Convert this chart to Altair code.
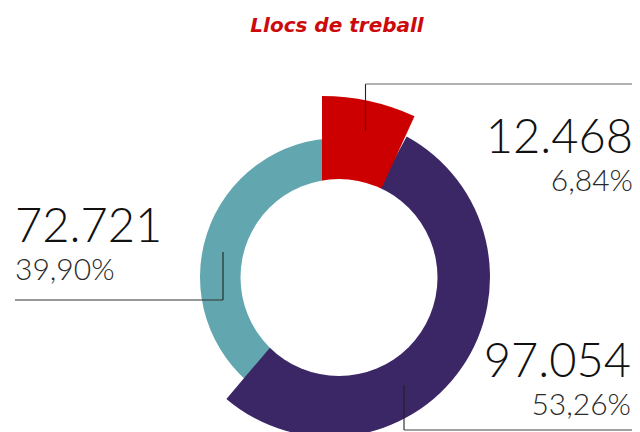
import altair as alt
import pandas as pd

# ---- data ----
categories = ["A", "B", "C"]
values = [12468, 97054, 72721]
value_labels = ["12.468", "97.054", "72.721"]
pct_labels = ["6,84%", "53,26%", "39,90%"]
colors = ["#CC0000", "#3C2766", "#62A6B0"]
title_text = "Llocs de treball"

total = sum(values)
ends = []
acc = 0
for v in values:
    acc += v
    ends.append(acc)
starts = [e - v for e, v in zip(ends, values)]

df = pd.DataFrame({
    "cat": categories,
    "value": values,
    "start": starts,
    "end": ends,
    "vlabel": value_labels,
    "plabel": pct_labels,
})

# ---- layout (page pixels; chart origin is at the 8px page margin) ----
M = 8
TAU = 6.283185307

theta_scale = alt.Scale(domain=[0, total], range=[0, TAU])
color_scale = alt.Scale(domain=categories, range=colors)

# slice geometry: category -> (centre x, centre y, outer radius, angular offset)
geom = {
    "C": (339, 277, 139, 0.0),
    "B": (330, 277, 160, 0.07),
    "A": (322, 318, 222, 0.0),
}


def arc_layer(cat):
    cx, cy, r, off = geom[cat]
    return (
        alt.Chart(df)
        .transform_filter(alt.datum.cat == cat)
        .mark_arc(radius=r, thetaOffset=off, theta2Offset=off, stroke=None)
        .encode(
            theta=alt.Theta("start:Q", scale=theta_scale),
            theta2="end:Q",
            color=alt.Color("cat:N", scale=color_scale, legend=None),
            x=alt.value(cx - M),
            y=alt.value(cy - M),
        )
    )


arcs = [arc_layer("C"), arc_layer("B"), arc_layer("A")]

hole_r = 98.5
hole = (
    alt.Chart(pd.DataFrame({"k": [0]}))
    .mark_circle(size=(2 * hole_r) ** 2, color="white", opacity=1)
    .encode(x=alt.value(339 - M), y=alt.value(277.5 - M))
)

# leader lines: (x, y, x2, y2, colour)
leaders = [
    (365.5, 131, 365.5, 84, "#222222"),
    (365.5, 84, 636, 84, "#666666"),
    (223, 252, 223, 300, "#222222"),
    (15, 300, 223, 300, "#333333"),
    (404, 385, 404, 430, "#222222"),
    (404, 430, 640, 430, "#444444"),
]
rules = []
for (x1, y1, x2, y2, c) in leaders:
    rules.append(
        alt.Chart(pd.DataFrame({"k": [0]}))
        .mark_rule(color=c, strokeWidth=1.1)
        .encode(
            x=alt.value(x1 - M), y=alt.value(y1 - M),
            x2=alt.value(x2 - M), y2=alt.value(y2 - M),
        )
    )

# label anchors: category -> (x, value baseline, pct baseline, align)
label_pos = {
    "A": (633, 153, 191, "right"),
    "B": (631, 377, 415, "right"),
    "C": (15, 242, 280, "left"),
}
FONT = "Lato"
texts = []
for cat, (lx, vy, py, al) in label_pos.items():
    base = alt.Chart(df).transform_filter(alt.datum.cat == cat)
    texts.append(
        base.mark_text(font=FONT, fontWeight=300, fontSize=47, align=al,
                       baseline="alphabetic", color="#111111")
        .encode(text="vlabel:N", x=alt.value(lx - M), y=alt.value(vy - M))
    )
    texts.append(
        base.mark_text(font=FONT, fontWeight=300, fontSize=30, align=al,
                       baseline="alphabetic", color="#2a2a2a")
        .encode(text="plabel:N", x=alt.value(lx - M), y=alt.value(py - M))
    )

title = (
    alt.Chart(pd.DataFrame({"t": [title_text]}))
    .mark_text(font="DejaVu Sans", fontStyle="italic", fontWeight="bold",
               fontSize=20, align="center", baseline="alphabetic",
               color="#CC0A0A")
    .encode(text="t:N", x=alt.value(337 - M), y=alt.value(31.5 - M))
)

chart = (
    alt.layer(*arcs, hole, *rules, *texts, title)
    .properties(width=624, height=424, padding=0, autosize="none")
    .configure_view(stroke=None)
)

chart.save("out.html", embed_options={"renderer": "svg", "actions": False})
